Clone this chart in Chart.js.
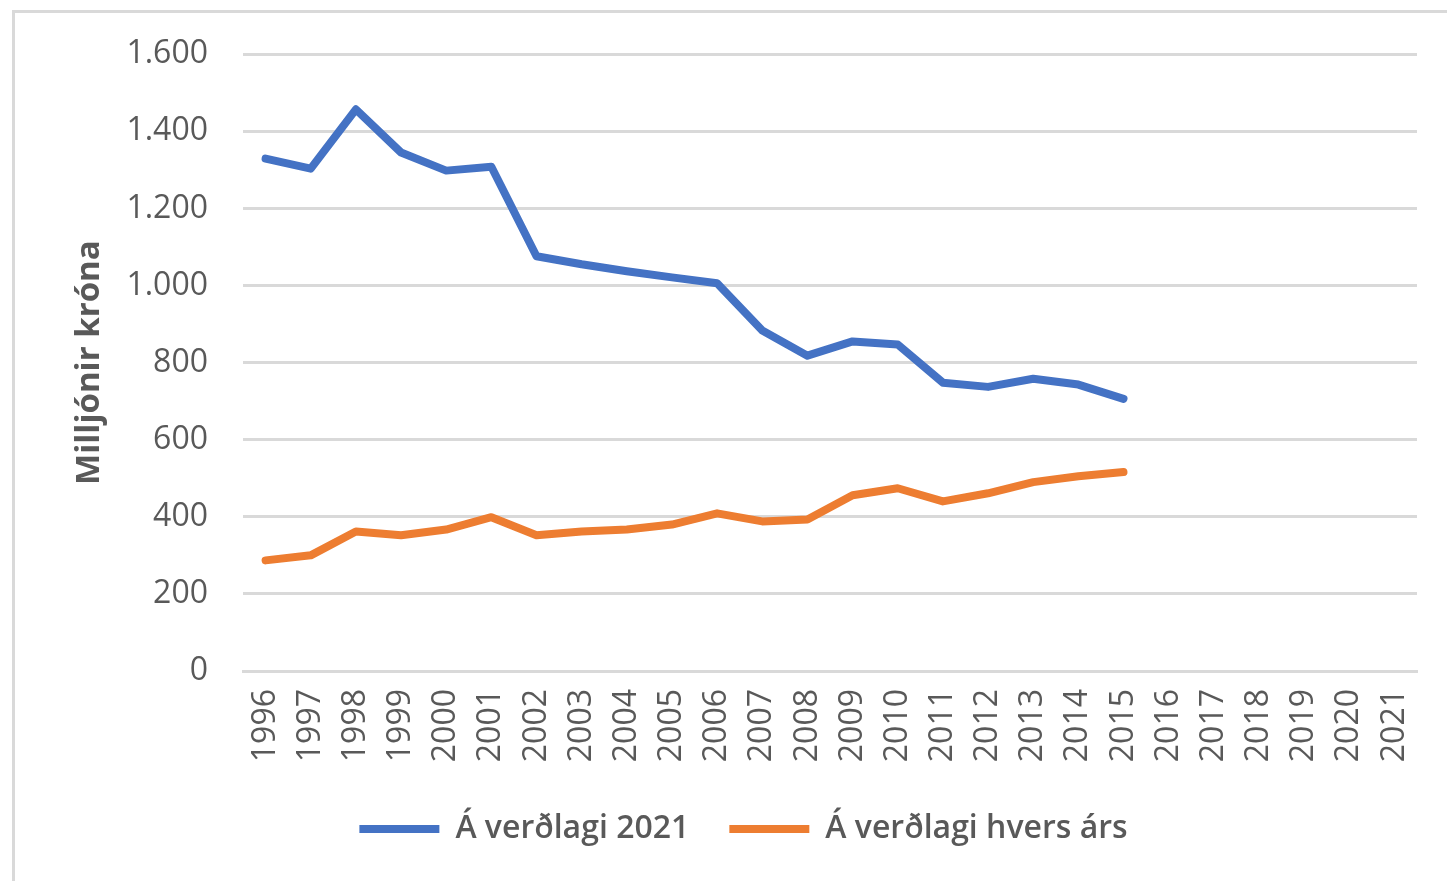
<!DOCTYPE html>
<html>
<head>
<meta charset="utf-8">
<script src="https://cdn.jsdelivr.net/npm/chart.js@4/dist/chart.umd.min.js"></script>
<style>
  body { margin: 0; background: #fff; overflow: hidden; }
  #frame {
    position: absolute; left: 12px; top: 10px;
    width: 1460px; height: 900px;
    border: 3px solid #d9d9d9;
  }
  #chart { position: absolute; left: 0; top: 0; }
</style>
</head>
<body>
<div id="frame"></div>
<canvas id="chart" width="1447" height="881"></canvas>
<script>
// years on the x axis (2016-2021 have no data yet)
const years = ['1996','1997','1998','1999','2000','2001','2002','2003','2004','2005','2006',
    '2007','2008','2009','2010','2011','2012','2013','2014','2015','2016','2017','2018','2019','2020','2021'];

// millions of ISK, at 2021 prices
const fixedPrices = [1329, 1303, 1457, 1345, 1298, 1308, 1076, 1055, 1037, 1021, 1006,
    883, 818, 855, 847, 748, 737, 758, 743, 706, null, null, null, null, null, null];

// millions of ISK, at each year's prices
const currentPrices = [287, 300, 362, 352, 367, 399, 352, 362, 367, 380, 409,
    388, 393, 456, 474, 440, 461, 490, 505, 516, null, null, null, null, null, null];

const seriesNames = ['Á verðlagi 2021', 'Á verðlagi hvers árs'];
const yTitle = 'Milljónir króna';

const textColor = '#595959';
const gridColor = '#d9d9d9';

//icelandic thousands separator is a dot
function formatNumber(v) {
    return String(v).replace(/\B(?=(\d{3})+(?!\d))/g, '.');
}

const ctx = document.querySelector('#chart').getContext('2d');
const chart = new Chart(ctx, {
    type: 'line',
    data: {
        labels: years,
        datasets: [{
            label: seriesNames[0],
            data: fixedPrices,
            borderColor: '#4472c4',
            backgroundColor: '#4472c4',
            borderWidth: 8,
            pointRadius: 0,
            tension: 0,
            borderCapStyle: 'round',
            borderJoinStyle: 'round'
        }, {
            label: seriesNames[1],
            data: currentPrices,
            borderColor: '#ed7d31',
            backgroundColor: '#ed7d31',
            borderWidth: 8,
            pointRadius: 0,
            tension: 0,
            borderCapStyle: 'round',
            borderJoinStyle: 'round'
        }]
    },
    options: {
        responsive: false,
        animation: false,
        layout: { padding: { left: 70, right: 30, top: 36, bottom: 26 } },
        plugins: {
            tooltip: { enabled: false },
            legend: {
                position: 'bottom',
                labels: {
                    color: textColor,
                    boxWidth: 80,
                    boxHeight: 8,
                    padding: 40,
                    font: { family: 'Open Sans', size: 32, weight: '600' },
                    generateLabels(c) {
                        const items = Chart.defaults.plugins.legend.labels.generateLabels(c);
                        items.forEach(it => { it.lineWidth = 0; });
                        return items;
                    }
                }
            }
        },
        scales: {
            x: {
                offset: true,
                grid: { display: false },
                border: { color: gridColor, width: 3 },
                afterFit(scale) { scale.height = 102; },
                ticks: {
                    color: textColor,
                    autoSkip: false,
                    minRotation: 90,
                    maxRotation: 90,
                    padding: 10,
                    font: { family: 'Open Sans', size: 32 }
                }
            },
            y: {
                min: 0,
                max: 1600,
                grid: { color: gridColor, lineWidth: 3, drawTicks: false },
                border: { display: false },
                afterFit(scale) { scale.width = 173; },
                ticks: {
                    stepSize: 200,
                    color: textColor,
                    padding: 35,
                    font: { family: 'Open Sans', size: 32 },
                    callback: v => formatNumber(v)
                },
                title: {
                    display: true,
                    text: yTitle,
                    color: textColor,
                    padding: { top: 0, bottom: 0 },
                    font: { family: 'Open Sans', size: 33, weight: 'bold' }
                }
            }
        }
    }
});
</script>
</body>
</html>
